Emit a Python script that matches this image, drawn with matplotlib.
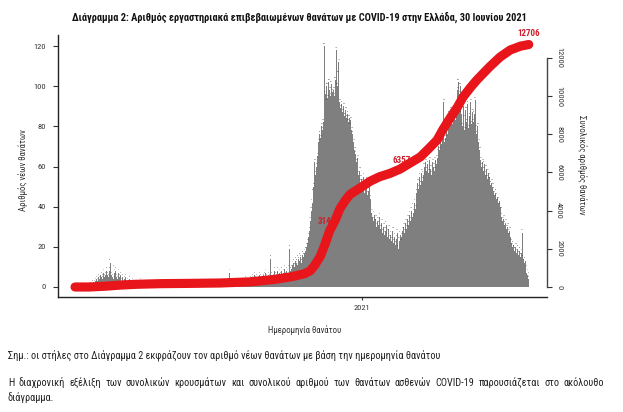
import numpy as np
import pandas as pd
import matplotlib
matplotlib.use('Agg')
import matplotlib.pyplot as plt
from matplotlib import font_manager

# ---------------- data ----------------
start_date = '2020-02-26'
deaths_2020_02 = [0, 0, 0, 0]
deaths_2020_03 = [0, 0, 0, 0, 0, 0, 0, 0, 0, 0, 0, 1, 0, 1, 1, 2, 1, 2, 3, 4, 3, 5, 4, 3, 6, 5, 4, 7, 5, 6, 8]
deaths_2020_04 = [6, 5, 8, 12, 6, 5, 9, 4, 7, 8, 5, 4, 7, 5, 6, 3, 5, 2, 4, 5, 2, 3, 1, 2, 4, 1, 2, 3, 1, 2]
deaths_2020_05 = [2, 1, 1, 0, 2, 1, 3, 1, 0, 1, 2, 1, 0, 1, 1, 2, 0, 1, 1, 0, 1, 2, 1, 0, 1, 0, 1, 1, 0, 1, 2]
deaths_2020_06 = [0, 1, 1, 0, 1, 0, 0, 1, 2, 0, 1, 0, 1, 0, 0, 1, 0, 1, 2, 0, 1, 0, 0, 1, 0, 0, 1, 1, 0, 1]
deaths_2020_07 = [0, 0, 1, 0, 1, 0, 0, 0, 1, 0, 0, 1, 0, 0, 0, 1, 0, 1, 0, 0, 0, 1, 0, 0, 1, 0, 1, 0, 1, 0, 1]
deaths_2020_08 = [0, 1, 0, 1, 1, 0, 2, 1, 0, 1, 7, 2, 1, 0, 2, 1, 2, 1, 3, 2, 2, 2, 1, 3, 2, 1, 3, 4, 2, 3, 2]
deaths_2020_09 = [3, 4, 2, 5, 4, 3, 6, 4, 5, 3, 4, 6, 5, 4, 3, 5, 6, 4, 7, 5, 4, 6, 5, 14, 6, 4, 5, 8, 6, 5]
deaths_2020_10 = [6, 8, 5, 7, 6, 8, 5, 7, 9, 6, 8, 7, 9, 6, 19, 8, 9, 11, 12, 10, 13, 12, 11, 14, 13, 15, 14, 12, 16, 15, 17]
deaths_2020_11 = [18, 20, 22, 25, 28, 33, 38, 42, 47, 50, 62, 56, 60, 65, 72, 76, 74, 80, 78, 82,
                  120, 96, 92, 100, 94, 102, 98, 95, 101, 97]
deaths_2020_12 = [98, 95, 103, 118, 100, 106, 112, 92, 89, 91, 87, 90, 85, 88, 84, 86, 82, 84, 80, 83,
                  78, 76, 72, 68, 66, 62, 64, 56, 58, 52, 54]
deaths_2021_01 = [52, 49, 55, 47, 50, 53, 46, 48, 51, 44, 37, 35, 33, 36, 32, 34, 30, 33, 31, 35,
                  29, 32, 27, 30, 26, 28, 31, 25, 27, 29, 24]
deaths_2021_02 = [26, 23, 28, 22, 25, 21, 24, 27, 19, 23, 26, 22, 25, 28, 30, 27, 32, 29, 34, 31,
                  36, 33, 38, 35, 40, 37, 42, 39]
deaths_2021_03 = [47, 52, 49, 55, 51, 57, 53, 56, 60, 55, 62, 58, 61, 57, 63, 59, 56, 62, 60, 58,
                  63, 61, 64, 67, 70, 68, 73, 71, 75, 92, 72]
deaths_2021_04 = [74, 78, 76, 82, 86, 80, 88, 84, 81, 89, 85, 83, 90, 98, 102, 96, 100, 86, 80, 90,
                  84, 78, 88, 82, 91, 79, 85, 92, 81, 87]
deaths_2021_05 = [82, 86, 93, 79, 76, 80, 72, 68, 63, 60, 62, 58, 61, 56, 59, 54, 57, 53, 55, 51,
                  52, 50, 48, 46, 47, 44, 45, 42, 43, 40, 38]
deaths_2021_06 = [35, 33, 34, 31, 32, 29, 30, 27, 28, 25, 22, 20, 21, 19, 18, 20, 17, 19, 16, 18,
                  15, 17, 27, 14, 12, 13, 9, 7, 6, 4]

# cumulative deaths (red curve)
cum_dates = ['2020-02-26', '2020-03-12', '2020-03-29', '2020-04-15', '2020-05-01', '2020-05-28',
             '2020-06-29', '2020-08-01', '2020-09-02', '2020-09-29', '2020-10-18', '2020-10-31',
             '2020-11-06', '2020-11-11', '2020-11-17', '2020-11-22', '2020-11-27', '2020-12-03',
             '2020-12-08', '2020-12-14', '2020-12-19', '2020-12-30', '2021-01-10', '2021-01-20',
             '2021-01-31', '2021-02-11', '2021-02-22', '2021-03-05', '2021-03-15', '2021-03-23',
             '2021-03-29', '2021-04-06', '2021-04-14', '2021-04-20', '2021-04-28', '2021-05-05',
             '2021-05-19', '2021-05-30', '2021-06-10', '2021-06-21', '2021-06-30']
cum_values = [0, 0, 40, 100, 140, 175, 190, 210, 270, 400, 550, 700, 850, 1150, 1620, 2250, 2950,
              3500, 4100, 4550, 4850, 5200, 5550, 5780, 5950, 6180, 6500, 6820, 7300, 7700, 8230,
              8850, 9430, 9950, 10450, 10850, 11550, 12050, 12420, 12620, 12706]

label_dates = ['2020-11-30', '2021-02-19', '2021-06-30']
label_values = [3140, 6357, 12706]

left_ticks = [0, 20, 40, 60, 80, 100, 120]
right_ticks = [0, 2000, 4000, 6000, 8000, 10000, 12000]
x_tick_dates = ['2021-01-01']
x_tick_labels = ['2021']

title = 'Διάγραμμα 2: Αριθμός εργαστηριακά επιβεβαιωμένων θανάτων με COVID-19 στην Ελλάδα, 30 Ιουνίου 2021'
ylabel_left = 'Αριθμός νέων θανάτων'
ylabel_right = 'Συνολικός αριθμός θανάτων'
xlabel = 'Ημερομηνία θανάτου'
note1 = 'Σημ.: οι στήλες στο Διάγραμμα 2 εκφράζουν τον αριθμό νέων θανάτων με βάση την ημερομηνία θανάτου'
note2 = ('Η διαχρονική εξέλιξη των συνολικών κρουσμάτων και συνολικού αριθμού των θανάτων ασθενών '
         'COVID-19 παρουσιάζεται στο ακόλουθο')
note3 = 'διάγραμμα.'

daily = (deaths_2020_02 + deaths_2020_03 + deaths_2020_04 + deaths_2020_05 + deaths_2020_06 +
         deaths_2020_07 + deaths_2020_08 + deaths_2020_09 + deaths_2020_10 + deaths_2020_11 +
         deaths_2020_12 + deaths_2021_01 + deaths_2021_02 + deaths_2021_03 + deaths_2021_04 +
         deaths_2021_05 + deaths_2021_06)
dates = pd.date_range(start_date, periods=len(daily), freq='D')

# ---------------- fonts ----------------
avail = {f.name for f in font_manager.fontManager.ttflist}
narrow = next((n for n in ['Liberation Sans Narrow', 'Roboto Condensed', 'Open Sans Condensed',
                           'Liberation Sans'] if n in avail), 'DejaVu Sans')
plt.rcParams['font.family'] = [narrow, 'DejaVu Sans']

W, H = 623, 412
fig = plt.figure(figsize=(W / 100, H / 100), dpi=100)
fig.patch.set_facecolor('white')

ax = fig.add_axes([58 / W, 1 - 297 / H, (547 - 58) / W, (297 - 35) / H])
BAR = '#7f7f7f'
RED = '#e8151b'
LRED = '#cf1f2a'

ax.bar(dates, daily, width=1.05, color=BAR, linewidth=0, align='center', zorder=2)
for d, v in zip(dates, daily):
    ax.text(d, v + 1.2, str(v), fontsize=1.4, ha='center', va='bottom', color='#333333', zorder=3)

ax.set_ylim(-5, 125.5)
ax.set_yticks(left_ticks)
ax.set_yticklabels([str(t) for t in left_ticks])
t0 = pd.Timestamp(start_date)
ax.set_xlim(t0 - pd.Timedelta(days=18.4), t0 + pd.Timedelta(days=509.7))
ax.set_xticks([pd.Timestamp(d) for d in x_tick_dates])
ax.set_xticklabels(x_tick_labels)
for s in ['top', 'right']:
    ax.spines[s].set_visible(False)
for s in ['left', 'bottom']:
    ax.spines[s].set_color('#222222')
    ax.spines[s].set_linewidth(1.0)
ax.tick_params(axis='y', length=3.6, width=0.8, pad=5, labelsize=6, colors='#333333')
ax.tick_params(axis='x', length=2.5, width=0.8, pad=3, labelsize=6, colors='#333333')

ax2 = ax.twinx()
ax2.plot(pd.to_datetime(cum_dates), cum_values, color=RED, lw=6.6, solid_capstyle='round',
         solid_joinstyle='round', zorder=5)
for d, v in zip(label_dates, label_values):
    if v == label_values[-1]:
        ax2.annotate(str(v), (pd.Timestamp(d), v), xytext=(0, 5), textcoords='offset points',
                     ha='center', va='bottom', fontsize=6.5, fontweight='bold', color=LRED, zorder=6)
    else:
        ax2.annotate(str(v), (pd.Timestamp(d), v), xytext=(-4, 4), textcoords='offset points',
                     ha='center', va='center', fontsize=6.5, fontweight='bold', color=LRED, zorder=4)
ax2.set_ylim(-524, 13205)
ax2.set_yticks(right_ticks)
ax2.set_yticklabels([str(t) for t in right_ticks], rotation=-90, va='center')
for s in ['top', 'left', 'bottom']:
    ax2.spines[s].set_visible(False)
ax2.spines['right'].set_bounds(0, 12000)
ax2.spines['right'].set_color('#444444')
ax2.spines['right'].set_linewidth(1.0)
ax2.tick_params(axis='y', length=3.6, width=0.8, pad=3, labelsize=6, colors='#333333')
ax2.set_xlim(ax.get_xlim())

# ---------------- texts ----------------
fig.text(299 / W, 1 - 17 / H, title, ha='center', va='center', fontsize=7.5, fontweight='bold',
         color='#111111')
fig.text(23.5 / W, 1 - 170 / H, ylabel_left, rotation=90, ha='center', va='center', fontsize=6.3,
         color='#333333')
fig.text(582 / W, 1 - 165 / H, ylabel_right, rotation=-90, ha='center', va='center', fontsize=6.3,
         color='#333333')
fig.text(305 / W, 1 - 330 / H, xlabel, ha='center', va='center', fontsize=6.3, color='#333333')
NOTE_FS = 7.4
fig.text(8 / W, 1 - 355 / H, note1, ha='left', va='center', fontsize=NOTE_FS, color='#222222')
fig.text(8 / W, 1 - 398 / H, note3, ha='left', va='center', fontsize=NOTE_FS, color='#222222')

renderer = fig.canvas.get_renderer()
words = note2.split()
objs = [fig.text(0, 1 - 383 / H, w, ha='left', va='center', fontsize=NOTE_FS, color='#222222')
        for w in words]
widths = [o.get_window_extent(renderer).width for o in objs]
x_left, x_right = 8, 604
gap = (x_right - x_left - sum(widths)) / (len(words) - 1)
xpos = x_left
for o, wd in zip(objs, widths):
    o.set_x(xpos / W)
    xpos += wd + gap

fig.savefig('out.png', dpi=100)
